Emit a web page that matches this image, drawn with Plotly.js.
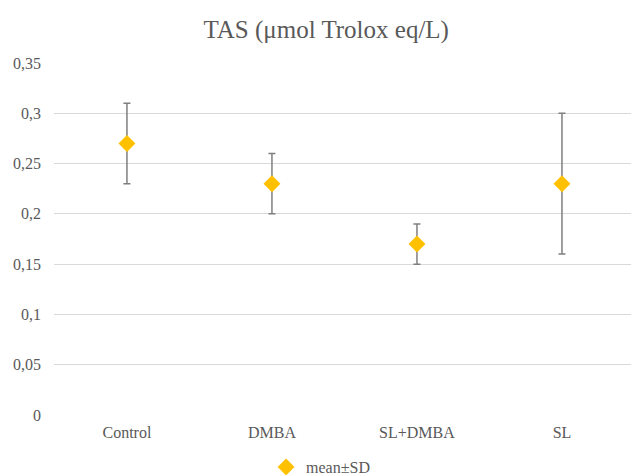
<!DOCTYPE html>
<html>
<head>
<meta charset="utf-8">
<script src="https://cdn.plot.ly/plotly-3.0.1.min.js"></script>
<style>html,body{margin:0;padding:0;background:#fff;}#chart{width:631px;height:475px;}</style>
</head>
<body>
<div id="chart"></div>
<script>
const categories = ["Control", "DMBA", "SL+DMBA", "SL"];
const meanValues = [0.27, 0.23, 0.17, 0.23];
const sdValues = [0.04, 0.03, 0.02, 0.07];
const yTickValues = [0, 0.05, 0.1, 0.15, 0.2, 0.25, 0.3, 0.35];

const serif = "Liberation Serif";
const grey = "#595959";

const trace = {
  type: "scatter",
  mode: "markers",
  name: "mean±SD",
  x: categories,
  y: meanValues,
  marker: {symbol: "diamond", size: 13, color: "#FFC000"},
  error_y: {type: "data", array: sdValues, visible: true, color: "#7f7f7f", thickness: 1.5, width: 3.5}
};

const layout = {
  width: 631,
  height: 475,
  margin: {l: 54, r: 0, t: 63, b: 60, autoexpand: false},
  paper_bgcolor: "#ffffff",
  plot_bgcolor: "#ffffff",
  separators: ",.",
  title: {
    text: "TAS (μmol Trolox eq/L)",
    font: {family: serif, size: 25, color: grey},
    xref: "container", x: 0.517, xanchor: "center",
    yref: "container", y: 0.938, yanchor: "middle"
  },
  xaxis: {
    type: "category",
    range: [-0.503, 3.476],
    showgrid: false,
    zeroline: false,
    showline: false,
    ticks: "",
    ticklabelstandoff: 6,
    tickfont: {family: serif, size: 16, color: grey},
    fixedrange: true
  },
  yaxis: {
    range: [0, 0.35],
    tickvals: yTickValues,
    showgrid: true,
    gridcolor: "#d9d9d9",
    gridwidth: 1,
    zeroline: false,
    showline: false,
    ticks: "",
    ticklabelstandoff: 12,
    tickfont: {family: serif, size: 16, color: grey},
    fixedrange: true
  },
  showlegend: true,
  legend: {
    orientation: "h",
    x: 0.462, xanchor: "center",
    y: -0.148, yanchor: "middle",
    font: {family: serif, size: 16, color: grey},
    itemwidth: 30
  }
};

Plotly.newPlot("chart", [trace], layout, {displayModeBar: false, staticPlot: true});
</script>
</body>
</html>
